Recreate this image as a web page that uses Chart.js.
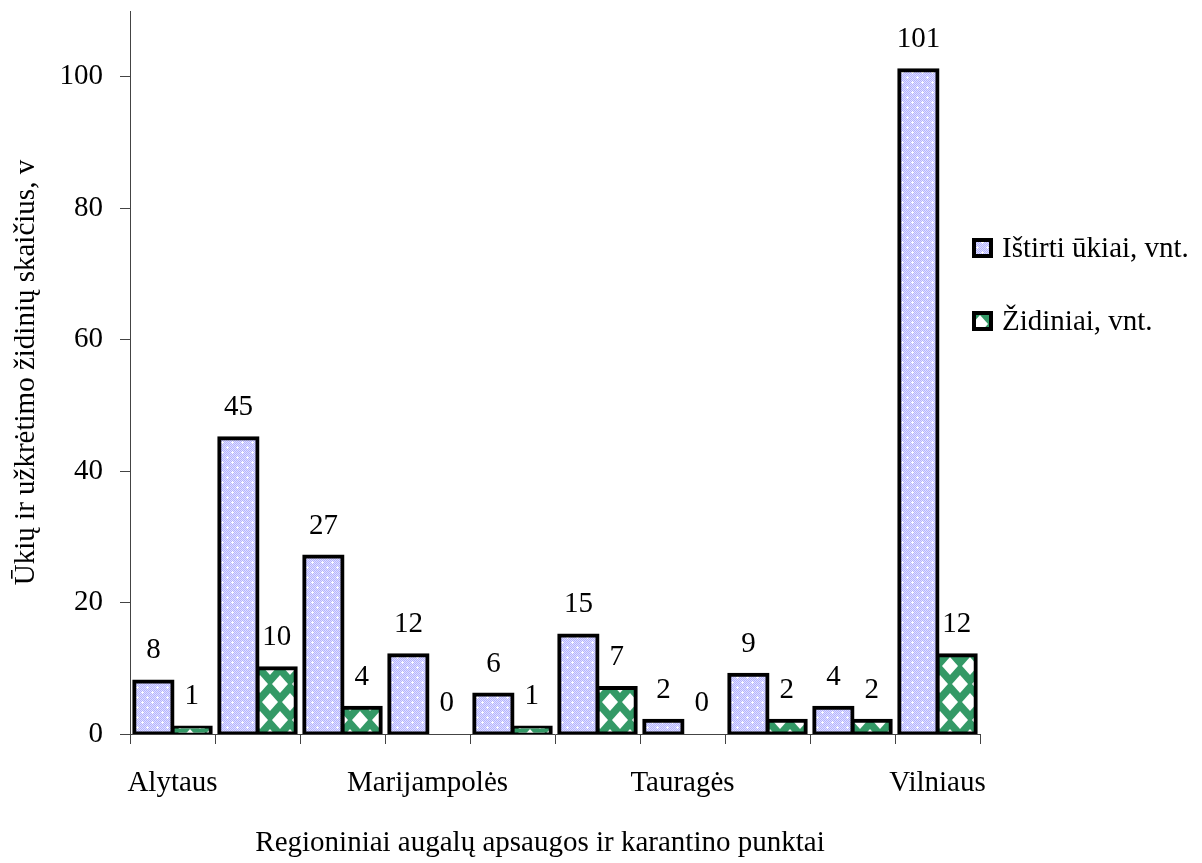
<!DOCTYPE html>
<html>
<head>
<meta charset="utf-8">
<script src="https://cdn.jsdelivr.net/npm/chart.js@4.4.1/dist/chart.umd.min.js"></script>
<style>
  html, body { margin: 0; padding: 0; background: #ffffff; }
  #c { display: block; }
</style>
</head>
<body>
<canvas id="c" width="1202" height="863"></canvas>
<script>
// Regional plant protection and quarantine points (alphabetical)
const categories = ['Alytaus', 'Kauno', 'Klaipėdos', 'Marijampolės', 'Panevėžio',
                    'Šiaulių', 'Tauragės', 'Telšių', 'Utenos', 'Vilniaus'];
// Surveyed farms, units
const surveyedFarms = [8, 45, 27, 12, 6, 15, 2, 9, 4, 101];
// Infection foci, units
const infectionFoci = [1, 10, 4, 0, 1, 7, 0, 2, 2, 12];
// Y axis ticks
const yTickValues = [0, 20, 40, 60, 80, 100];
const yMax = 110;
const seriesNames = ['Ištirti ūkiai, vnt.', 'Židiniai, vnt.'];
const xTitle = 'Regioniniai augalų apsaugos ir karantino punktai';
const yTitle = 'Ūkių ir užkrėtimo židinių skaičius, v';

const FONT = "'Liberation Serif', 'Times New Roman', serif";
const FSIZE = 29;
const AXIS = '#444444';

const canvas = document.getElementById('c');
const ctx = canvas.getContext('2d');

// Lavender confetti fill
function makeBluePattern() {
  const t = document.createElement('canvas');
  t.width = 10; t.height = 10;
  const g = t.getContext('2d');
  for (let y = 0; y < 10; y++) {
    for (let x = 0; x < 10; x++) {
      g.fillStyle = (x + y) % 2 ? '#e0e0ff' : '#b4b4ff';
      g.fillRect(x, y, 1, 1);
    }
  }
  g.fillStyle = '#ffffff';
  [[2, 2], [7, 7]].forEach(([cx, cy]) => {
    g.fillRect(cx, cy - 1, 1, 3);
    g.fillRect(cx - 1, cy, 3, 1);
  });
  return ctx.createPattern(t, 'repeat');
}

// Green field with staggered white diamonds
function makeGreenPattern() {
  const w = 20, h = 36, rx = 8, ry = 9;
  const t = document.createElement('canvas');
  t.width = w; t.height = h;
  const g = t.getContext('2d');
  g.fillStyle = '#339966';
  g.fillRect(0, 0, w, h);
  g.fillStyle = '#ffffff';
  g.strokeStyle = '#ffffff';
  g.lineJoin = 'round';
  g.lineWidth = 1.5;
  [[0, 0], [w, 0], [0, h], [w, h], [w / 2, h / 2]].forEach(([cx, cy]) => {
    g.beginPath();
    g.moveTo(cx, cy - ry);
    g.lineTo(cx + rx, cy);
    g.lineTo(cx, cy + ry);
    g.lineTo(cx - rx, cy);
    g.closePath();
    g.fill();
  });
  return ctx.createPattern(t, 'repeat');
}

const bluePattern = makeBluePattern();
const greenPattern = makeGreenPattern();
const fills = [bluePattern, greenPattern];

// Value labels above each bar, axis titles and legend
const decorations = {
  id: 'decorations',
  afterDatasetsDraw(chart) {
    const c = chart.ctx;
    c.save();
    c.font = FSIZE + 'px ' + FONT;
    c.fillStyle = '#000000';
    c.textAlign = 'center';
    c.textBaseline = 'alphabetic';
    chart.data.datasets.forEach((ds, i) => {
      const meta = chart.getDatasetMeta(i);
      meta.data.forEach((bar, j) => {
        c.fillText(String(ds.data[j]), bar.x, bar.y - 23);
      });
    });
    c.restore();
  },
  afterDraw(chart) {
    const c = chart.ctx;
    const area = chart.chartArea;
    c.save();
    c.font = FSIZE + 'px ' + FONT;
    c.fillStyle = '#000000';

    // x axis title
    c.textAlign = 'center';
    c.textBaseline = 'alphabetic';
    c.fillText(xTitle, 540, 851);

    // y axis title
    c.save();
    c.translate(34, (area.top + area.bottom) / 2);
    c.rotate(-Math.PI / 2);
    c.textAlign = 'center';
    c.textBaseline = 'alphabetic';
    c.fillText(yTitle, 0, 0);
    c.restore();

    // legend
    const rows = [248, 321];
    seriesNames.forEach((name, i) => {
      const cy = rows[i];
      c.fillStyle = fills[i];
      c.fillRect(972, cy - 10, 21, 20);
      c.lineWidth = 4;
      c.strokeStyle = '#000000';
      c.strokeRect(974, cy - 8, 17, 16);
      c.fillStyle = '#000000';
      c.textAlign = 'left';
      c.textBaseline = 'middle';
      c.fillText(name, 1002, cy + 1);
    });
    c.restore();
  }
};

const barStyle = {
  borderColor: '#000000',
  borderWidth: 4,
  borderSkipped: false,
  inflateAmount: (context) => (context.raw === 0 ? 0 : 2),
  categoryPercentage: 0.9,
  barPercentage: 1.0
};

new Chart(canvas, {
  type: 'bar',
  data: {
    labels: categories,
    datasets: [
      Object.assign({ label: seriesNames[0], data: surveyedFarms, backgroundColor: bluePattern }, barStyle),
      Object.assign({ label: seriesNames[1], data: infectionFoci, backgroundColor: greenPattern }, barStyle)
    ]
  },
  options: {
    responsive: false,
    animation: false,
    devicePixelRatio: 1,
    layout: { padding: { left: 0, right: 222, top: 11, bottom: 0 } },
    plugins: {
      legend: { display: false },
      tooltip: { enabled: false },
      title: { display: false }
    },
    scales: {
      x: {
        offset: true,
        grid: {
          offset: true,
          drawOnChartArea: false,
          drawTicks: true,
          tickLength: 10,
          color: AXIS,
          lineWidth: 1
        },
        border: { display: true, color: AXIS, width: 1 },
        ticks: {
          autoSkip: false,
          maxRotation: 0,
          padding: 22,
          color: '#000000',
          font: { family: FONT, size: FSIZE },
          callback: (value, index) => (index % 3 === 0 ? categories[index] : '')
        },
        afterFit: (scale) => {
          scale.height = 129;
          scale.paddingLeft = 0;
          scale.paddingRight = 0;
        }
      },
      y: {
        min: 0,
        max: yMax,
        grid: {
          drawOnChartArea: false,
          drawTicks: true,
          tickLength: 10,
          color: AXIS,
          lineWidth: 1
        },
        border: { display: true, color: AXIS, width: 1 },
        afterBuildTicks: (scale) => {
          scale.ticks = yTickValues.map((v) => ({ value: v }));
        },
        ticks: {
          padding: 17,
          color: '#000000',
          font: { family: FONT, size: FSIZE }
        },
        afterFit: (scale) => {
          scale.width = 130;
          scale.paddingTop = 0;
          scale.paddingBottom = 0;
        }
      }
    }
  },
  plugins: [decorations]
});
</script>
</body>
</html>
